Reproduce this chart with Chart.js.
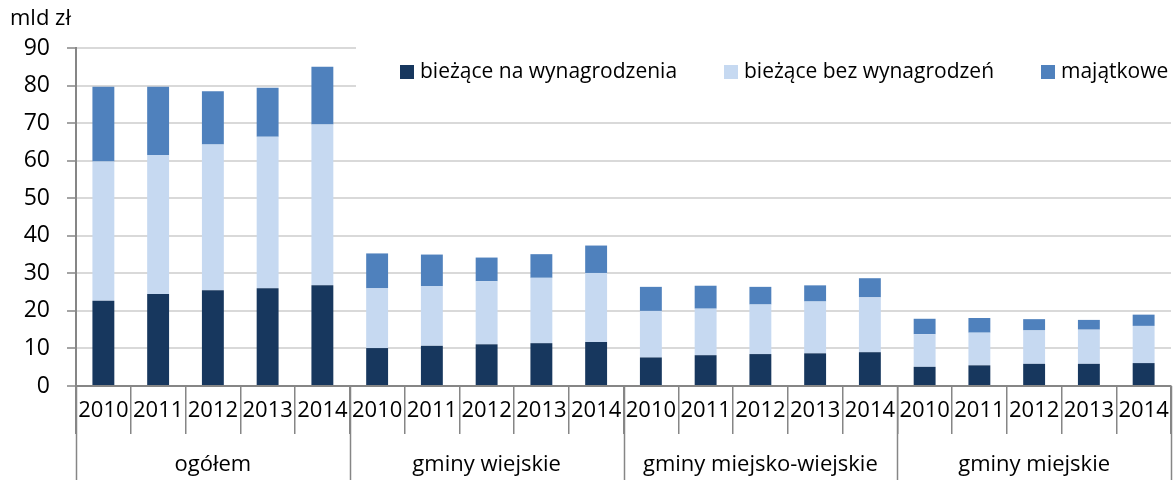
<!DOCTYPE html>
<html>
<head>
<meta charset="utf-8">
<script src="https://cdn.jsdelivr.net/npm/chart.js@4.4.1/dist/chart.umd.min.js"></script>
<style>
  body { margin: 0; background: #fff; }
</style>
</head>
<body>
<canvas id="wydatkiChart" width="1174" height="480"></canvas>
<script>
 // kategorie i wartości (mld zł)
 const years = ['2010', '2011', '2012', '2013', '2014'];
 const groups = ['ogółem', 'gminy wiejskie', 'gminy miejsko-wiejskie', 'gminy miejskie'];
 const seriesNames = ['bieżące na wynagrodzenia', 'bieżące bez wynagrodzeń', 'majątkowe'];
 const wynagrodzenia = [22.7, 24.5, 25.5, 26.0, 26.8, 10.1, 10.7, 11.1, 11.4, 11.7, 7.6, 8.2, 8.5, 8.7, 9.0, 5.1, 5.5, 5.9, 5.9, 6.1];
 const bezWynagrodzen = [37.1, 37.0, 38.8, 40.4, 42.8, 15.9, 15.9, 16.8, 17.4, 18.4, 12.4, 12.4, 13.2, 13.8, 14.6, 8.7, 8.7, 8.9, 9.1, 9.9];
 const majatkowe = [19.9, 18.2, 14.2, 13.0, 15.4, 9.3, 8.4, 6.3, 6.3, 7.3, 6.4, 6.1, 4.7, 4.3, 5.1, 4.1, 3.9, 3.0, 2.6, 3.0];
 const yTicks = [0, 10, 20, 30, 40, 50, 60, 70, 80, 90];

 const colors = ['#17375E', '#C6D9F1', '#4F81BD'];
 const axisColor = '#868686';
 const FONT = '"Open Sans", "Noto Sans", sans-serif';

 const labels = groups.flatMap(() => years);

 const decorPlugin = {
    id: 'decor',
    beforeDatasetsDraw(chart) {
       // legend box hides the upper gridlines
       const ctx = chart.ctx;
       ctx.save();
       ctx.fillStyle = '#fff';
       ctx.fillRect(356, 40, 1174 - 356, 58);
       ctx.restore();
    },
    afterDraw(chart) {
       const ctx = chart.ctx;
       const x = chart.scales.x;
       ctx.save();

       // unit label
       ctx.fillStyle = '#000';
       ctx.font = `22px ${FONT}`;
       ctx.textAlign = 'left';
       ctx.textBaseline = 'middle';
       ctx.fillText('mld zł', 10, 19);

       // legend
       const markerX = [400, 724, 1041];
       ctx.font = `21px ${FONT}`;
       seriesNames.forEach((name, i) => {
          ctx.fillStyle = colors[i];
          ctx.fillRect(markerX[i], 65, 14, 14);
          ctx.fillStyle = '#000';
          ctx.fillText(name, markerX[i] + 20, 72);
       });

       // group separators and group labels
       ctx.strokeStyle = axisColor;
       ctx.lineWidth = 1.5;
       for (let g = 0; g <= groups.length; g++) {
          const px = Math.round(x.getPixelForValue(g * years.length - 0.5)) + 0.5;
          ctx.beginPath();
          ctx.moveTo(px, x.top);
          ctx.lineTo(px, 480);
          ctx.stroke();
       }
       ctx.font = `22px ${FONT}`;
       ctx.textAlign = 'center';
       ctx.fillStyle = '#000';
       groups.forEach((name, g) => {
          const cx = x.getPixelForValue(g * years.length + (years.length - 1) / 2);
          ctx.fillText(name, cx, 465);
       });
       ctx.restore();
    }
 };

 const ctx = document.getElementById('wydatkiChart').getContext('2d');
 const chart = new Chart(ctx, {
    type: 'bar',
    data: {
       labels: labels,
       datasets: [
          { label: seriesNames[0], data: wynagrodzenia, backgroundColor: colors[0] },
          { label: seriesNames[1], data: bezWynagrodzen, backgroundColor: colors[1] },
          { label: seriesNames[2], data: majatkowe, backgroundColor: colors[2] }
       ]
    },
    options: {
       responsive: false,
       animation: false,
       events: [],
       datasets: {
          bar: {
             barPercentage: 0.4,
             categoryPercentage: 1.0,
             borderWidth: 0
          }
       },
       layout: {
          padding: { top: 48, right: 3, left: 0, bottom: 0 }
       },
       plugins: {
          legend: { display: false },
          tooltip: { enabled: false }
       },
       scales: {
          x: {
             stacked: true,
             grid: {
                drawOnChartArea: false,
                drawTicks: true,
                tickLength: 48,
                color: axisColor,
                lineWidth: 1.5,
                offset: true
             },
             border: { color: axisColor, width: 2 },
             ticks: {
                color: '#000',
                font: { family: FONT, size: 22 },
                padding: -36,
                maxRotation: 0,
                autoSkip: false
             },
             afterFit: (scale) => { scale.height = 94; }
          },
          y: {
             stacked: true,
             min: 0,
             max: 90,
             afterBuildTicks: (scale) => { scale.ticks = yTicks.map(v => ({ value: v })); },
             grid: {
                color: '#D9D9D9',
                lineWidth: 2,
                tickLength: 9,
                tickColor: axisColor,
                tickWidth: 1.5
             },
             border: { color: axisColor, width: 2 },
             ticks: {
                color: '#000',
                font: { family: FONT, size: 23 },
                padding: 17
             },
             afterFit: (scale) => { scale.width = 76; }
          }
       }
    },
    plugins: [decorPlugin]
 });
</script>
</body>
</html>
